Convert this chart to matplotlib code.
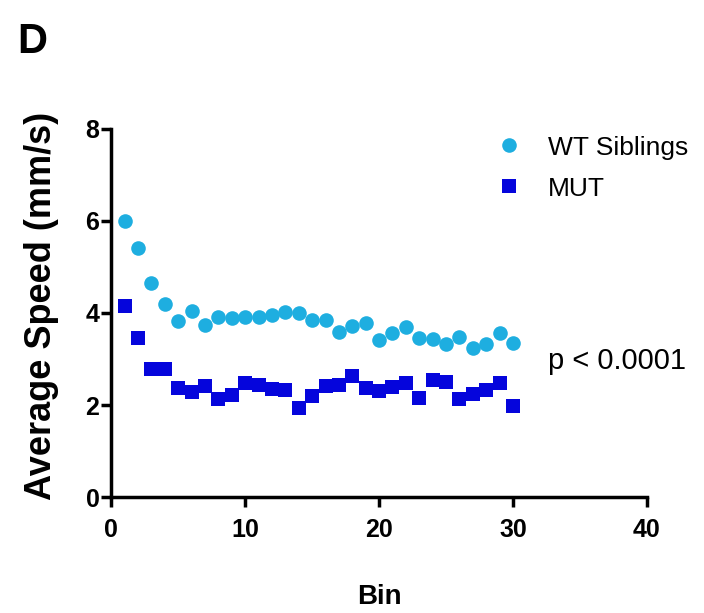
import numpy as np
import matplotlib as mpl
mpl.use('Agg')
import matplotlib.pyplot as plt

plt.rcParams['font.family'] = ['Liberation Sans', 'DejaVu Sans']

bins = np.arange(1, 31)
wt = [6.0, 5.42, 4.66, 4.19, 3.83, 4.05, 3.74, 3.91, 3.88, 3.92,
      3.91, 3.96, 4.01, 4.0, 3.85, 3.85, 3.59, 3.72, 3.79, 3.41,
      3.56, 3.69, 3.45, 3.43, 3.33, 3.48, 3.23, 3.33, 3.57, 3.34]
mut = [4.14, 3.45, 2.78, 2.78, 2.38, 2.28, 2.41, 2.14, 2.22, 2.47,
       2.43, 2.34, 2.33, 1.93, 2.2, 2.41, 2.43, 2.63, 2.36, 2.31,
       2.4, 2.47, 2.16, 2.54, 2.51, 2.14, 2.23, 2.33, 2.48, 1.98]

fig = plt.figure(figsize=(7.04, 6.13), dpi=100)
ax = fig.add_axes([0.158, 0.189, 0.761, 0.601])

ax.plot(bins, wt, 'o', color='#1EAEE0', markersize=10.5, markeredgewidth=0,
        label='WT Siblings', clip_on=False)
ax.plot(bins, mut, 's', color='#0505DC', markersize=9.5, markeredgewidth=0,
        label='MUT', clip_on=False)

ax.set_xlim(0, 40)
ax.set_ylim(0, 8)
ax.set_xticks([0, 10, 20, 30, 40])
ax.set_yticks([0, 2, 4, 6, 8])
for s in ['top', 'right']:
    ax.spines[s].set_visible(False)
for s in ['left', 'bottom']:
    ax.spines[s].set_linewidth(2.5)
ax.tick_params(width=2.5, length=7, labelsize=18)
ax.tick_params(axis='x', pad=8)
ax.tick_params(axis='y', pad=1.5)
for lab in ax.get_xticklabels() + ax.get_yticklabels():
    lab.set_fontweight('bold')

ax.set_ylabel('Average Speed (mm/s)', fontsize=26, fontweight='bold')
ax.yaxis.set_label_coords(-0.097, 0.52)
ax.set_xlabel('Bin', fontsize=20, fontweight='bold')
ax.xaxis.set_label_coords(0.5, -0.236)

ax.legend(loc='upper left', bbox_to_anchor=(0.648, 1.046), frameon=False,
          fontsize=19, handletextpad=0.5, labelspacing=0.65, borderpad=0.4)

fig.text(0.778, 1 - 369 / 613, 'p < 0.0001', fontsize=21, va='baseline')
fig.text(0.024, 1 - 53 / 613, 'D', fontsize=30, fontweight='bold', va='baseline')

fig.savefig('out.png', dpi=100)
